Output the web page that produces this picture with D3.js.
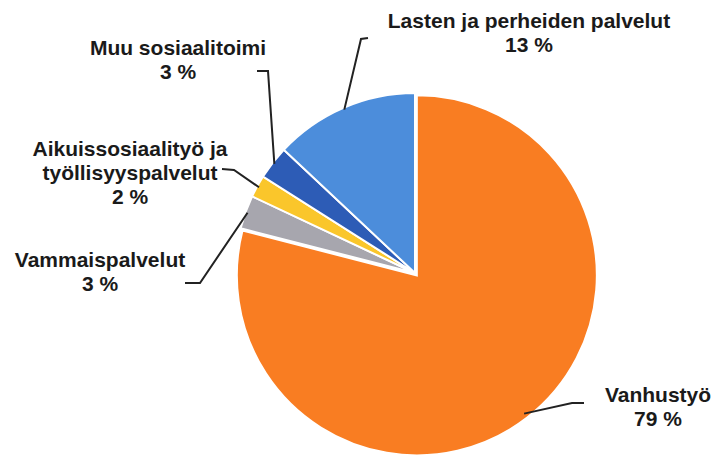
<!DOCTYPE html>
<html>
<head>
<meta charset="utf-8">
<script src="https://cdn.jsdelivr.net/npm/d3@7/dist/d3.min.js"></script>
<style>
  body { margin: 0; background: #fff; }
  text { font-family: "Liberation Sans", Arial, sans-serif; font-weight: bold; fill: #1a1a1a; }
</style>
</head>
<body>
<div id="chart"></div>
<script>
// Data
var categories = ["Vanhustyö", "Vammaispalvelut", "Aikuissosiaalityö ja työllisyyspalvelut", "Muu sosiaalitoimi", "Lasten ja perheiden palvelut"];
var values = [79, 3, 2, 3, 13];
var labelLines = [["Vanhustyö"], ["Vammaispalvelut"], ["Aikuissosiaalityö ja", "työllisyyspalvelut"], ["Muu sosiaalitoimi"], ["Lasten ja perheiden palvelut"]];

var colors = ["#f97d22", "#a7a6ae", "#fac62b", "#2d5cb6", "#4c8ddb"];

var w = 716, h = 457;
var cx = 415, cy = 273, radius = 180;

// label layout: text centre x, first baseline y, elbow point, line end
var labelPos = [
  { x: 658, y: 402, elbow: [572, 403], end: [584, 403] },
  { x: 100, y: 267, elbow: [200, 283], end: [185, 283] },
  { x: 130, y: 156, elbow: [234, 170], end: [222, 169] },
  { x: 178, y: 55,  elbow: [268, 71],  end: [257, 71] },
  { x: 529, y: 28,  elbow: [361, 39],  end: [368, 38] }
];

var svg = d3.select("#chart")
  .append("svg")
    .attr("width", w)
    .attr("height", h);

var data = categories.map(function(c, i) { return { name: c, value: values[i], i: i }; });

var pie = d3.pie().sort(null).value(function(d) { return d.value; });
var arcs = pie(data);

var arc = d3.arc().innerRadius(0).outerRadius(radius);
var edgeArc = d3.arc().innerRadius(radius - 2).outerRadius(radius - 2);

var g = svg.append("g").attr("transform", "translate(" + cx + "," + cy + ")");

// Slices (the big one is pulled out a little)
g.selectAll("path.slice").data(arcs).enter().append("path")
  .attr("class", "slice")
  .attr("d", arc)
  .attr("fill", function(d) { return colors[d.data.i]; })
  .attr("stroke", "#fff")
  .attr("stroke-width", 2)
  .attr("transform", function(d) {
    if (d.data.i !== 0) return null;
    var a = (d.startAngle + d.endAngle) / 2;
    return "translate(" + (3 * Math.sin(a)) + "," + (-3 * Math.cos(a)) + ")";
  });

// Leader lines
svg.selectAll("path.leader").data(arcs).enter().append("path")
  .attr("class", "leader")
  .attr("fill", "none")
  .attr("stroke", "#222")
  .attr("stroke-width", 2)
  .attr("d", function(d) {
    var p = edgeArc.centroid(d);
    var lp = labelPos[d.data.i];
    return d3.line()([[cx + p[0], cy + p[1]], lp.elbow, lp.end]);
  });

// Labels
var labels = svg.selectAll("text.label").data(arcs).enter().append("text")
  .attr("class", "label")
  .attr("text-anchor", "middle")
  .style("font-size", "21px");

labels.each(function(d) {
  var t = d3.select(this);
  var lp = labelPos[d.data.i];
  var lines = labelLines[d.data.i].concat([d.data.value + " %"]);
  lines.forEach(function(s, k) {
    t.append("tspan").attr("x", lp.x).attr("y", lp.y + k * 24).text(s);
  });
});
</script>
</body>
</html>
